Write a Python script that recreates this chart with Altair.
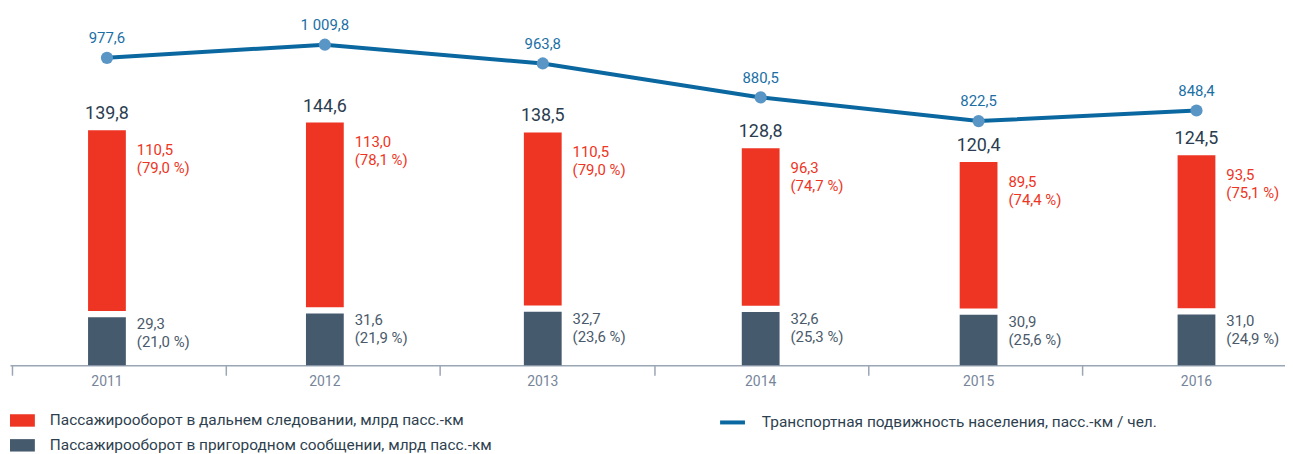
import altair as alt
import pandas as pd

# ---------------- data ----------------
years = ["2011", "2012", "2013", "2014", "2015", "2016"]
total = [139.8, 144.6, 138.5, 128.8, 120.4, 124.5]
long_dist_label = [110.5, 113.0, 110.5, 96.3, 89.5, 93.5]   # values as printed
long_dist_pct = [79.0, 78.1, 79.0, 74.7, 74.4, 75.1]
suburban = [29.3, 31.6, 32.7, 32.6, 30.9, 31.0]
suburban_pct = [21.0, 21.9, 23.6, 25.3, 25.6, 24.9]
mobility = [977.6, 1009.8, 963.8, 880.5, 822.5, 848.4]
tick_positions = [0, 1, 2, 3, 4, 5]

series_long = "Пассажирооборот в дальнем следовании, млрд пасс.-км"
series_sub = "Пассажирооборот в пригородном сообщении, млрд пасс.-км"
series_mob = "Транспортная подвижность населения, пасс.-км / чел."

RED = "#ee3524"
GREY = "#465a6e"
BLUE_LINE = "#0a67a0"
BLUE_PT = "#5a96c5"
BLUE_TXT = "#1b6fa5"
DARK_TXT = "#2b3d50"
GREY_TXT = "#4a5a6b"
AXIS_CLR = "#9aa6b4"
FONT = "Roboto"
GAP = 3.8  # visual gap between stacked segments, in data units


def fmt(v):
    s = f"{v:,.1f}"
    return s.replace(",", " ").replace(".", ",")


# bar segments
rows = []
for y, t, s in zip(years, total, suburban):
    rows.append({"year": y, "series": series_sub, "y0": 0.0, "y1": s})
    rows.append({"year": y, "series": series_long, "y0": s + GAP, "y1": t + GAP})
bars_df = pd.DataFrame(rows)

lab_df = pd.DataFrame({
    "year": years,
    "top": [t + GAP for t in total],
    "sub": suburban,
    "total_txt": [fmt(t) for t in total],
    "long_txt": [f"{fmt(v)}\n({fmt(p)} %)" for v, p in zip(long_dist_label, long_dist_pct)],
    "sub_txt": [f"{fmt(v)}\n({fmt(p)} %)" for v, p in zip(suburban, suburban_pct)],
})

line_df = pd.DataFrame({
    "year": years,
    "mob": mobility,
    "mob_txt": [fmt(v) for v in mobility],
    "series": [series_mob] * len(years),
})

tick_df = pd.DataFrame({"tick": tick_positions})

# ---------------- scales ----------------
x_scale = alt.Scale(domain=years, range=[-12.05, 1302.55], paddingInner=0, paddingOuter=0)
x_axis = alt.Axis(title=None, orient="bottom", domain=False, ticks=False, tickSize=0,
                  labelAngle=0, labelPadding=9, labelFont=FONT, labelFontSize=14,
                  labelColor="#76859a", grid=False)
X = alt.X("year:N", scale=x_scale, axis=x_axis, sort=years)

y_bar_scale = alt.Scale(domain=[0, 217.6], nice=False, zero=False)
y_line_scale = alt.Scale(domain=[223.7, 1096.8], nice=False, zero=False)

LEG_FS = 15.5
LEG_Y = 401

# ---------------- bar layer ----------------
bars = alt.Chart(bars_df).mark_bar(size=38).encode(
    x=X,
    y=alt.Y("y0:Q", scale=y_bar_scale, axis=None),
    y2="y1:Q",
    color=alt.Color(
        "series:N",
        scale=alt.Scale(domain=[series_long, series_sub], range=[RED, GREY]),
        legend=alt.Legend(
            orient="none", legendX=0, legendY=LEG_Y, title=None, direction="vertical",
            symbolType="M-1,-0.5H1V0.5H-1Z", symbolSize=625, symbolStrokeWidth=0,
            symbolOpacity=1, labelFont=FONT, labelFontSize=LEG_FS, labelColor="#2e3f4f",
            labelOffset=15, rowPadding=4, labelLimit=1000, padding=0,
        ),
    ),
)

total_txt = alt.Chart(lab_df).mark_text(
    align="center", baseline="alphabetic", dy=-11, font=FONT, fontSize=18,
    fontWeight="normal", color=DARK_TXT,
).encode(x=X, y=alt.Y("top:Q", scale=y_bar_scale, axis=None), text="total_txt:N")

long_txt = alt.Chart(lab_df).mark_text(
    align="left", baseline="alphabetic", dx=30, dy=25, font=FONT, fontSize=15,
    color=RED, lineBreak="\n", lineHeight=18,
).encode(x=X, y=alt.Y("top:Q", scale=y_bar_scale, axis=None), text="long_txt:N")

sub_txt = alt.Chart(lab_df).mark_text(
    align="left", baseline="alphabetic", dx=30, dy=12, font=FONT, fontSize=15,
    color=GREY_TXT, lineBreak="\n", lineHeight=18,
).encode(x=X, y=alt.Y("sub:Q", scale=y_bar_scale, axis=None), text="sub_txt:N")

bar_layer = alt.layer(bars, total_txt, long_txt, sub_txt)

# ---------------- line layer ----------------
Yl = alt.Y("mob:Q", scale=y_line_scale, axis=None)
line = alt.Chart(line_df).mark_line(strokeWidth=4).encode(
    x=X, y=Yl,
    color=alt.Color(
        "series:N",
        scale=alt.Scale(domain=[series_mob], range=[BLUE_LINE]),
        legend=alt.Legend(
            orient="none", legendX=712, legendY=LEG_Y, title=None, direction="vertical",
            symbolType="stroke", symbolSize=625, symbolStrokeWidth=4,
            labelFont=FONT, labelFontSize=LEG_FS, labelColor="#2e3f4f",
            labelOffset=15, labelLimit=1000, padding=0,
        ),
    ),
)
points = alt.Chart(line_df).mark_circle(size=150, opacity=1, color=BLUE_PT).encode(x=X, y=Yl)
line_txt = alt.Chart(line_df).mark_text(
    align="center", baseline="alphabetic", dy=-15, font=FONT, fontSize=15, color=BLUE_TXT,
).encode(x=X, y=Yl, text="mob_txt:N")

line_layer = alt.layer(line, points, line_txt)

main = alt.layer(bar_layer, line_layer).resolve_scale(y="independent", color="independent")

# ---------------- axis line with its ticks ----------------
ticks = alt.Chart(tick_df).mark_rule(opacity=0).encode(
    x=alt.X(
        "tick:Q",
        scale=alt.Scale(domain=[-0.00929, 5.948], nice=False, zero=False),
        axis=alt.Axis(title=None, orient="bottom", labels=False, grid=False,
                      values=tick_positions, tickSize=10, tickWidth=1.5, tickColor=AXIS_CLR,
                      domainColor=AXIS_CLR, domainWidth=1.5),
    )
)

chart = alt.layer(main, ticks).resolve_scale(x="independent").properties(
    width=1282, height=358,
    padding={"left": 2, "top": 0, "right": 0, "bottom": 88},
    autosize=alt.AutoSizeParams(type="none"),
).configure_view(stroke=None)

chart.save("out.html", embed_options={"renderer": "svg", "actions": False})
